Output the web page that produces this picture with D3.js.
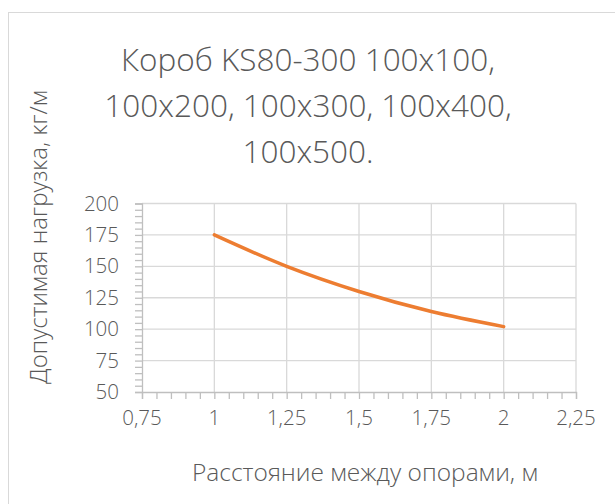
<html>
<head>
<meta charset="utf-8">
<title>Короб KS80-300</title>
<script src="https://d3js.org/d3.v7.min.js"></script>
<style>
  body { margin: 0; background: #fff; }
  text { font-family: "Open Sans", sans-serif; fill: #595959; }
</style>
</head>
<body>
<div id="chart"></div>
<script>
// data
var spans = [1, 1.25, 1.5, 1.75, 2];
var loads = [175, 150, 130, 114, 102];
var xTicks = [0.75, 1, 1.25, 1.5, 1.75, 2, 2.25];
var yTicks = [50, 75, 100, 125, 150, 175, 200];
var titleLines = ["Короб KS80-300 100x100,", "100x200, 100x300, 100x400,", "100x500."];
var xTitle = "Расстояние между опорами, м";
var yTitle = "Допустимая нагрузка, кг/м";

var width = 615, height = 504;
var plot = {left: 142, right: 576, top: 203.5, bottom: 392};

var svg = d3.select("#chart").append("svg")
  .attr("width", width)
  .attr("height", height);

// chart frame
svg.append("rect")
  .attr("x", 8.5).attr("y", 12.5)
  .attr("width", 640).attr("height", 540)
  .attr("fill", "#fff")
  .attr("stroke", "#d9d9d9");

var x = d3.scaleLinear().domain([0.75, 2.25]).range([plot.left, plot.right]);
var y = d3.scaleLinear().domain([50, 200]).range([plot.bottom, plot.top]);
var comma = function(d) { return String(d).replace(".", ","); };

// gridlines
svg.append("g").selectAll("line")
  .data(yTicks.slice(1))
  .enter().append("line")
  .attr("x1", plot.left).attr("x2", plot.right)
  .attr("y1", function(d) { return y(d); })
  .attr("y2", function(d) { return y(d); })
  .attr("stroke", "#d9d9d9").attr("stroke-width", 1.3);

svg.append("g").selectAll("line")
  .data(xTicks.slice(1))
  .enter().append("line")
  .attr("x1", function(d) { return x(d); })
  .attr("x2", function(d) { return x(d); })
  .attr("y1", plot.top).attr("y2", plot.bottom)
  .attr("stroke", "#d9d9d9").attr("stroke-width", 1.3);

// axes with minor ticks
var xMinor = d3.range(0.75, 2.2501, 0.05);
var yMinor = d3.range(50, 200.01, 5);

var xAxis = svg.append("g")
  .attr("transform", "translate(0," + plot.bottom + ")")
  .call(d3.axisBottom(x).tickValues(xMinor).tickSize(7).tickFormat(""));
var yAxis = svg.append("g")
  .attr("transform", "translate(" + plot.left + ",0)")
  .call(d3.axisLeft(y).tickValues(yMinor).tickSize(7).tickFormat(""));
[xAxis, yAxis].forEach(function(a) {
  a.select(".domain").attr("stroke", "#bfbfbf").attr("stroke-width", 1.3);
  a.selectAll(".tick line").attr("stroke", "#bfbfbf").attr("stroke-width", 1.3);
});

// tick labels
svg.append("g").selectAll("text")
  .data(xTicks)
  .enter().append("text")
  .attr("x", function(d) { return x(d); })
  .attr("y", 425)
  .attr("text-anchor", "middle")
  .style("font-size", "20.5px")
  .style("font-weight", 300)
  .text(comma);

svg.append("g").selectAll("text")
  .data(yTicks)
  .enter().append("text")
  .attr("x", 119)
  .attr("y", function(d) { return y(d) + 7; })
  .attr("text-anchor", "end")
  .style("font-size", "20.5px")
  .style("font-weight", 300)
  .text(comma);

// series
var line = d3.line()
  .x(function(d) { return x(d[0]); })
  .y(function(d) { return y(d[1]); })
  .curve(d3.curveCatmullRom);

svg.append("path")
  .datum(d3.zip(spans, loads))
  .attr("d", line)
  .attr("fill", "none")
  .attr("stroke", "#ed7d31")
  .attr("stroke-width", 3.5)
  .attr("stroke-linecap", "round");

// titles
svg.append("g").selectAll("text")
  .data(titleLines)
  .enter().append("text")
  .attr("x", 308)
  .attr("y", function(d, i) { return 71 + i * 46; })
  .attr("text-anchor", "middle")
  .style("font-size", "31.5px")
  .style("font-weight", 300)
  .text(function(d) { return d; });

svg.append("text")
  .attr("x", 365).attr("y", 481)
  .attr("text-anchor", "middle")
  .style("font-size", "24.5px")
  .style("font-weight", 300)
  .text(xTitle);

svg.append("text")
  .attr("transform", "translate(47,237) rotate(-90)")
  .attr("text-anchor", "middle")
  .style("font-size", "24px")
  .style("font-weight", 300)
  .text(yTitle);
</script>
</body>
</html>
